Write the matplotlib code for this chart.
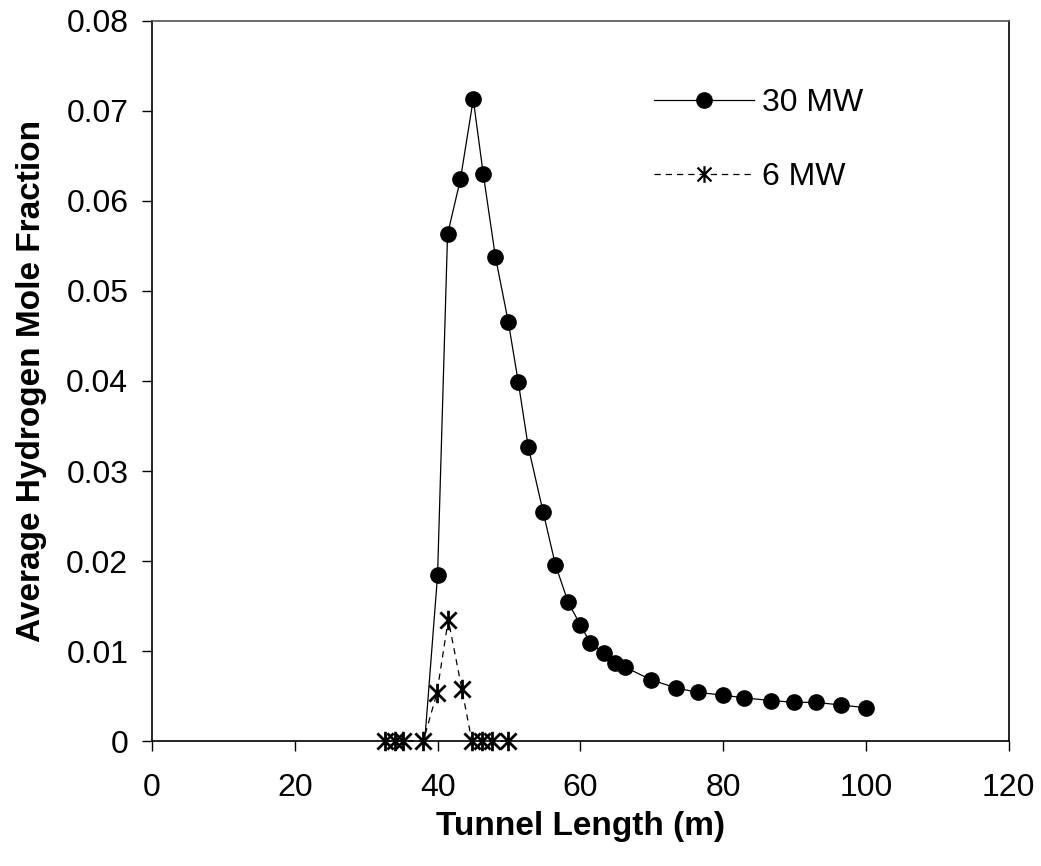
import matplotlib
matplotlib.use("Agg")
import matplotlib.pyplot as plt
from matplotlib.path import Path

plt.rcParams['font.family'] = ['Liberation Sans', 'DejaVu Sans']

# 30 MW series (first point is the zero where the line starts, no marker)
x_30 = [38.2, 40.0, 41.4, 43.2, 45.0, 46.4, 48.1, 49.9, 51.3, 52.7, 54.8, 56.5,
        58.3, 60.0, 61.4, 63.3, 64.9, 66.3, 69.9, 73.4, 76.5, 80.0, 82.9, 86.7,
        89.9, 93.0, 96.5, 100.0]
y_30 = [0.0, 0.0184, 0.0563, 0.0624, 0.0713, 0.0630, 0.0538, 0.0466, 0.0399,
        0.0327, 0.0254, 0.0196, 0.0154, 0.0129, 0.0109, 0.0098, 0.0087, 0.0082,
        0.0068, 0.0059, 0.0054, 0.0051, 0.0048, 0.0045, 0.0043, 0.0043, 0.0040,
        0.0037]

# 6 MW series
x_6 = [32.7, 34.1, 35.2, 38.0, 39.9, 41.5, 43.4, 44.8, 46.2, 47.6, 49.9]
y_6 = [0.0, 0.0, 0.0, 0.0, 0.0053, 0.0135, 0.0058, 0.0, 0.0, 0.0, 0.0]

x_ticks = [0, 20, 40, 60, 80, 100, 120]
y_ticks = [0, 0.01, 0.02, 0.03, 0.04, 0.05, 0.06, 0.07, 0.08]
y_ticklabels = ['0', '0.01', '0.02', '0.03', '0.04', '0.05', '0.06', '0.07', '0.08']

# excel style star: an X with a vertical bar
star = Path([(-1, -1), (1, 1), (-1, 1), (1, -1), (0, -1.2), (0, 1.2)],
            [Path.MOVETO, Path.LINETO, Path.MOVETO, Path.LINETO, Path.MOVETO, Path.LINETO])

fig = plt.figure(figsize=(10.41, 8.66), dpi=100)
ax = fig.add_axes([0.146, 0.1443, 0.823, 0.8315])

ax.plot(x_30, y_30, color='black', lw=0.9, marker='o', markersize=11,
        markevery=list(range(1, len(x_30))), label='30 MW', zorder=3)
ax.plot(x_6, y_6, color='black', lw=0.9, ls=(0, (5, 4)), marker=star,
        markersize=14, markeredgewidth=2, label='6 MW', zorder=3, clip_on=False)

ax.set_xlim(0, 120)
ax.set_ylim(0, 0.08)
ax.set_xticks(x_ticks)
ax.set_yticks(y_ticks)
ax.set_yticklabels(y_ticklabels)
ax.tick_params(axis='both', direction='out', length=7, width=1, labelsize=23)
ax.tick_params(axis='x', pad=16)
ax.tick_params(axis='y', pad=10)
ax.tick_params(top=False, right=False)
for s in ax.spines.values():
    s.set_linewidth(1.2)
ax.spines['top'].set_color('#555555')

ax.set_xlabel('Tunnel Length (m)', fontsize=24, fontweight='bold', labelpad=6)
ax.set_ylabel('Average Hydrogen Mole Fraction', fontsize=24, fontweight='bold', labelpad=14)

leg = ax.legend(loc='upper left', bbox_to_anchor=(0.552, 0.947), frameon=False,
                fontsize=23, handlelength=3.15, handletextpad=0.25, labelspacing=1.38)
leg.legend_handles[1].set_markersize(12)
leg.legend_handles[1].set_markeredgewidth(1.6)

fig.savefig('out.png', dpi=100)
